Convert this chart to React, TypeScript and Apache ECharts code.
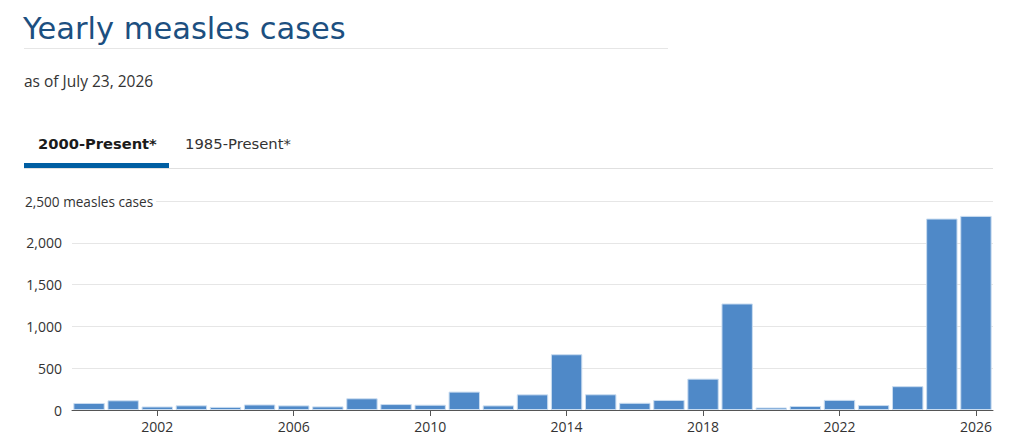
import React, { useEffect, useRef } from "react";
import * as echarts from "echarts";

const years = [
  "2000", "2001", "2002", "2003", "2004", "2005", "2006", "2007", "2008", "2009",
  "2010", "2011", "2012", "2013", "2014", "2015", "2016", "2017", "2018", "2019",
  "2020", "2021", "2022", "2023", "2024", "2025", "2026",
];
const cases = [
  84, 116, 42, 56, 37, 66, 55, 43, 140, 71,
  63, 220, 55, 187, 667, 188, 86, 120, 375, 1274,
  30, 48, 121, 59, 285, 2290, 2322,
];
const yTicks = [0, 500, 1000, 1500, 2000, 2500];
const titleText = "Yearly measles cases";
const subtitleText = "as of July 23, 2026";
const tabLabels = ["2000-Present*", "1985-Present*"];
const topAxisLabel = "2,500 measles cases";

const FONT = "'Open Sans', 'Noto Sans', sans-serif";
const HEAD_FONT = "'DejaVu Sans', 'Open Sans', sans-serif";

export default function App() {
  const ref = useRef<HTMLDivElement>(null);
  useEffect(() => {
    if (!ref.current) return;
    const chart = echarts.init(ref.current, null, { renderer: "svg" });
    const yMax = yTicks[yTicks.length - 1];
    chart.setOption({
      animation: false,
      backgroundColor: "#ffffff",
      textStyle: { fontFamily: FONT },
      grid: { left: 72, right: 31, top: 201, bottom: 37, containLabel: false },
      xAxis: {
        type: "category",
        data: years,
        boundaryGap: true,
        axisLine: { show: true, lineStyle: { color: "#555555", width: 1 } },
        axisTick: {
          show: true,
          alignWithLabel: true,
          length: 6,
          interval: (i: number) => i % 4 === 2,
          lineStyle: { color: "#555555" },
        },
        axisLabel: {
          interval: (i: number) => i % 4 === 2,
          color: "#333333",
          fontSize: 14,
          fontFamily: FONT,
          margin: 9,
        },
        splitLine: { show: false },
      },
      yAxis: {
        type: "value",
        min: 0,
        max: yMax,
        interval: 500,
        axisLine: { show: false },
        axisTick: { show: false },
        axisLabel: {
          color: "#333333",
          fontSize: 14,
          fontFamily: FONT,
          margin: 10,
          formatter: (v: number) =>
            v === yMax ? "" : v.toLocaleString("en-US"),
        },
        splitLine: { show: true, lineStyle: { color: "#e6e6e6", width: 1 } },
      },
      series: [
        {
          type: "bar",
          data: cases,
          barCategoryGap: "8%",
          itemStyle: {
            color: "#4f89c8",
            borderColor: "#c9dcf0",
            borderWidth: 1,
          },
          z: 2,
        },
      ],
      graphic: [
        {
          type: "text",
          x: 23,
          y: 28,
          style: {
            text: titleText,
            fill: "#1c4f80",
            fontSize: 30.5,
            fontFamily: HEAD_FONT,
            fontWeight: "normal",
            verticalAlign: "middle",
            align: "left",
          },
        },
        {
          type: "line",
          shape: { x1: 24, y1: 48.5, x2: 668, y2: 48.5 },
          style: { stroke: "#e6e6e6", lineWidth: 1 },
        },
        {
          type: "text",
          x: 24,
          y: 81,
          style: {
            text: subtitleText,
            fill: "#333333",
            fontSize: 15.5,
            fontFamily: FONT,
            verticalAlign: "middle",
          },
        },
        {
          type: "text",
          x: 38,
          y: 143,
          style: {
            text: tabLabels[0],
            fill: "#1b1b1b",
            fontSize: 14.7,
            fontWeight: "bold",
            fontFamily: HEAD_FONT,
            verticalAlign: "middle",
          },
        },
        {
          type: "text",
          x: 185,
          y: 143,
          style: {
            text: tabLabels[1],
            fill: "#333333",
            fontSize: 14.8,
            fontFamily: HEAD_FONT,
            verticalAlign: "middle",
          },
        },
        {
          type: "line",
          shape: { x1: 24, y1: 168.5, x2: 993, y2: 168.5 },
          style: { stroke: "#e0e0e0", lineWidth: 1 },
        },
        {
          type: "rect",
          shape: { x: 24, y: 163, width: 145, height: 5 },
          style: { fill: "#005ea2" },
        },
        {
          type: "text",
          x: 25,
          y: 201.5,
          z: 100,
          style: {
            text: topAxisLabel,
            fill: "#333333",
            fontSize: 13.6,
            fontFamily: FONT,
            verticalAlign: "middle",
            backgroundColor: "#ffffff",
            padding: [0, 3, 0, 0],
          },
        },
      ],
    });
    return () => chart.dispose();
  }, []);
  return (
    <div
      ref={ref}
      style={{ position: "absolute", left: 0, top: 0, width: 1024, height: 447 }}
    />
  );
}
